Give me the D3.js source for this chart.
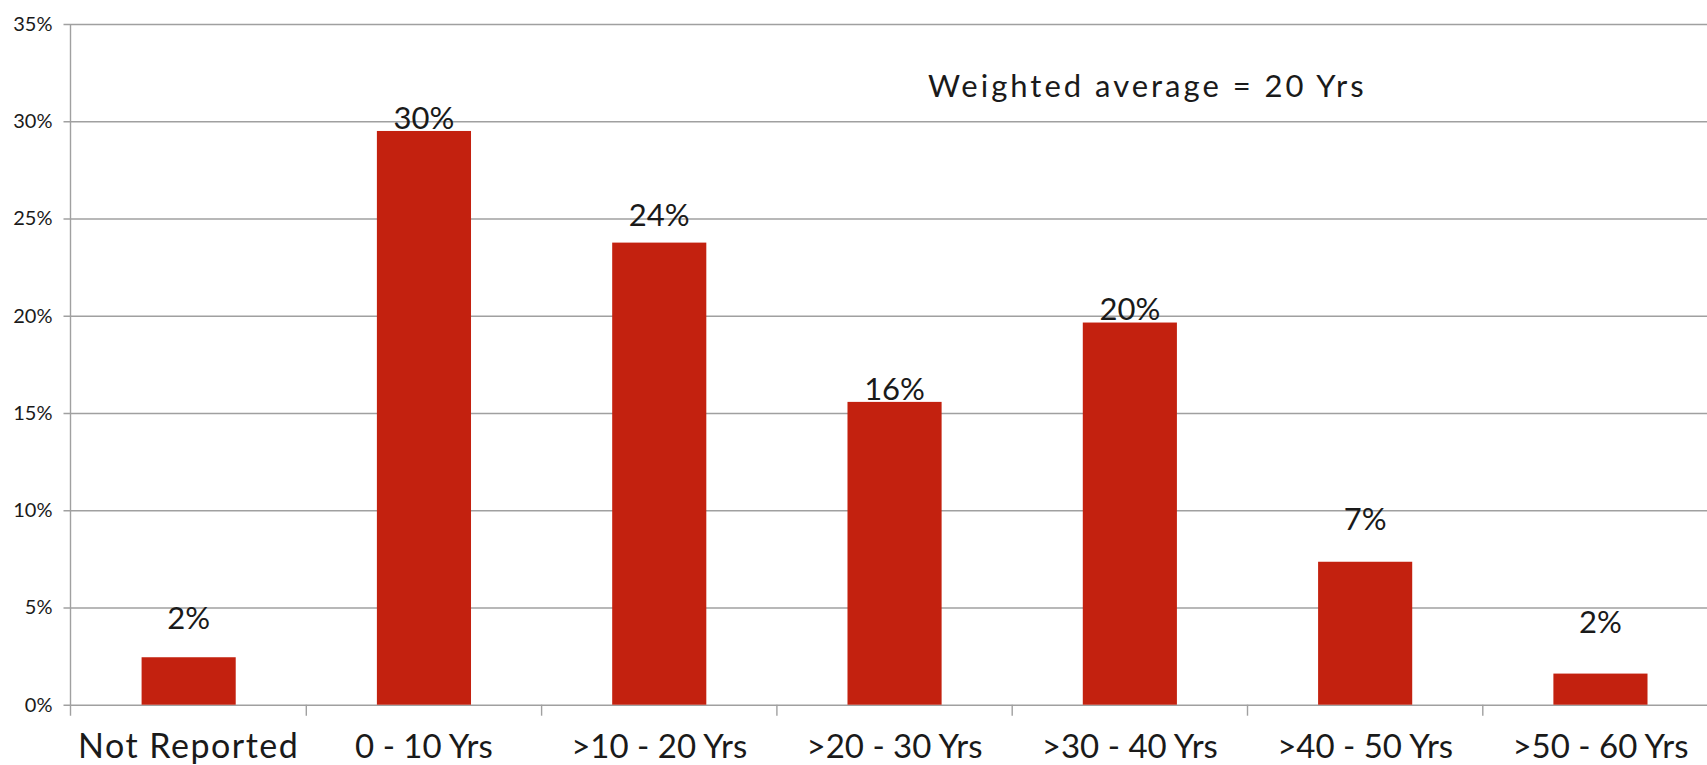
<!DOCTYPE html>
<html>
<head>
<meta charset="utf-8">
<script src="https://cdn.jsdelivr.net/npm/d3@7"></script>
<style>
  html, body { margin: 0; padding: 0; background: #fff; }
  svg { display: block; }
  text { font-family: "Lato", "DejaVu Sans", sans-serif; fill: #1a1a1a; }
</style>
</head>
<body>
<svg id="chart" width="1707" height="765"></svg>
<script>
// Share of records by age bracket
const categories = ["Not Reported", "0 - 10 Yrs", ">10 - 20 Yrs", ">20 - 30 Yrs", ">30 - 40 Yrs", ">40 - 50 Yrs", ">50 - 60 Yrs"];
const shares = [0.0244, 0.295, 0.2376, 0.1557, 0.1965, 0.0735, 0.016];
const yTicks = [0, 0.05, 0.10, 0.15, 0.20, 0.25, 0.30, 0.35];
const note = "Weighted average = 20 Yrs";

// vertical gap (px) between each bar top and its value label baseline
const labelGap = [28, 2, 17, 2, 3, 32, 41];

const svg = d3.select("#chart");
const plot = { left: 71, step: 235.3, top: 24, bottom: 704.7 };
const right = plot.left + categories.length * plot.step;

const x = d3.scaleBand()
  .domain(categories)
  .range([plot.left, right])
  .paddingInner(0.6)
  .paddingOuter(0.3);

const y = d3.scaleLinear().domain([0, 0.35]).range([plot.bottom, plot.top]);
const pct = d3.format(".0%");
const gridColor = "#a0a0a0";

// horizontal gridlines + y tick labels
const yAxis = d3.axisLeft(y)
  .tickValues(yTicks)
  .tickFormat(pct)
  .tickSize(-(right - plot.left))
  .tickSizeOuter(0)
  .tickPadding(12);

const gy = svg.append("g")
  .attr("transform", `translate(${plot.left - 0.5},0)`)
  .call(yAxis);
gy.select(".domain").remove();
gy.selectAll(".tick line")
  .attr("x1", -7)
  .attr("stroke", gridColor)
  .attr("stroke-width", 1.4);
gy.selectAll(".tick text")
  .attr("x", -18)
  .style("font-size", "20px")
  .style("font-family", "Lato, sans-serif")
  .attr("fill", "#1a1a1a");

// vertical axis line
svg.append("line")
  .attr("x1", plot.left - 0.5).attr("x2", plot.left - 0.5)
  .attr("y1", plot.top).attr("y2", plot.bottom + 11)
  .attr("stroke", gridColor).attr("stroke-width", 1.4);

// category boundary ticks
svg.append("g")
  .selectAll("line")
  .data(d3.range(1, categories.length + 1))
  .join("line")
  .attr("x1", i => plot.left + i * x.step())
  .attr("x2", i => plot.left + i * x.step())
  .attr("y1", plot.bottom)
  .attr("y2", plot.bottom + 11)
  .attr("stroke", gridColor)
  .attr("stroke-width", 1.4);

// bars
svg.append("g")
  .selectAll("rect")
  .data(shares)
  .join("rect")
  .attr("x", (d, i) => x(categories[i]))
  .attr("width", x.bandwidth())
  .attr("y", d => y(d))
  .attr("height", d => y(0) - y(d))
  .attr("fill", "#c3210f");

// value labels
svg.append("g")
  .selectAll("text")
  .data(shares)
  .join("text")
  .attr("x", (d, i) => x(categories[i]) + x.bandwidth() / 2)
  .attr("y", (d, i) => y(d) - labelGap[i])
  .attr("text-anchor", "middle")
  .style("font-size", "31px")
  .text(d => pct(d));

// category labels
svg.append("g")
  .selectAll("text")
  .data(categories)
  .join("text")
  .attr("x", d => x(d) + x.bandwidth() / 2)
  .attr("y", 758)
  .attr("text-anchor", "middle")
  .style("font-size", d => d === "Not Reported" ? "34px" : "33px")
  .style("letter-spacing", d => d === "Not Reported" ? "1.5px" : "0px")
  .text(d => d);

// annotation
svg.append("text")
  .attr("x", 928)
  .attr("y", 96.7)
  .style("font-size", "31px")
  .style("letter-spacing", "3px")
  .text(note);
</script>
</body>
</html>
